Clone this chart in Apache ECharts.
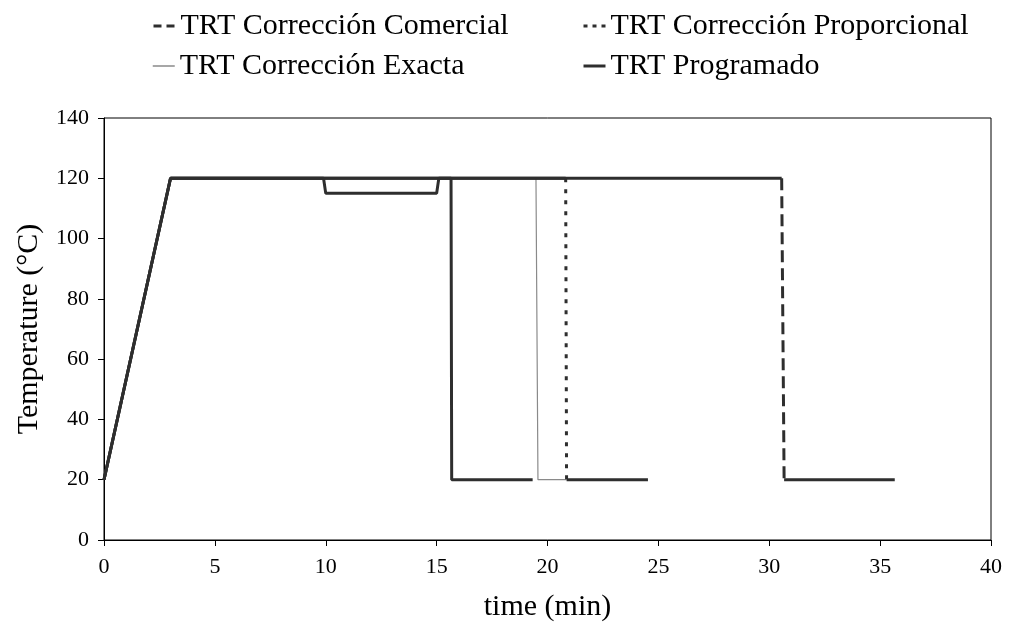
<!DOCTYPE html>
<html><head><meta charset="utf-8">
<script src="https://cdn.jsdelivr.net/npm/echarts@6/dist/echarts.min.js"></script>
<style>html,body{margin:0;padding:0;background:#fff}#c{width:1011px;height:633px}</style>
</head><body><div id="c"></div>
<script>
// Data (time in min, temperature in °C)
const seriesNames = ['TRT Corrección Comercial','TRT Corrección Proporcional','TRT Corrección Exacta','TRT Programado'];
const comercialTime = [0, 3, 30.56, 30.67, 35.66];
const comercialTemp = [20, 120, 120, 20, 20];
const proporcionalTime = [0, 3, 20.82, 20.86, 24.53];
const proporcionalTemp = [20, 120, 120, 20, 20];
const exactaTime = [0, 3, 19.48, 19.57, 20.86];
const exactaTemp = [20, 120, 120, 20, 20];
const programadoTime = [0, 3, 9.9, 10.0, 15.0, 15.1, 15.65, 15.68, 19.33];
const programadoTemp = [20, 120, 120, 115, 115, 120, 120, 20, 20];
const xTicks = [0, 5, 10, 15, 20, 25, 30, 35, 40];
const yTicks = [0, 20, 40, 60, 80, 100, 120, 140];

const dark = '#2e2e2e';
const grey = '#8a8a8a';
function pts(t, v) { return t.map((x, i) => [x, v[i]]); }
// drop segment (index 2 -> 3) drawn with the dash pattern, rest solid
function dropPart(t, v) { return [[t[2], v[2]], [t[3], v[3]]]; }
function flatPart(t, v) {
  const p = pts(t, v);
  return p.slice(0, 3).concat([[null, null]], p.slice(3));
}
const serif = 'Liberation Serif, Times New Roman, serif';

const series = [
  { name: seriesNames[2], type: 'line', data: pts(exactaTime, exactaTemp), symbol: 'none',
    lineStyle: { color: grey, width: 1.2 }, itemStyle: { color: grey }, z: 1 },
  { name: seriesNames[0], type: 'line', data: dropPart(comercialTime, comercialTemp), symbol: 'none',
    lineStyle: { color: dark, width: 3, type: [12, 6] }, itemStyle: { color: dark }, z: 2 },
  { name: seriesNames[0], type: 'line', data: flatPart(comercialTime, comercialTemp), symbol: 'none', connectNulls: false,
    lineStyle: { color: dark, width: 3 }, itemStyle: { color: dark }, z: 2 },
  { name: seriesNames[1], type: 'line', data: dropPart(proporcionalTime, proporcionalTemp), symbol: 'none',
    lineStyle: { color: dark, width: 3, type: [4, 7] }, itemStyle: { color: dark }, z: 3 },
  { name: seriesNames[1], type: 'line', data: flatPart(proporcionalTime, proporcionalTemp), symbol: 'none', connectNulls: false,
    lineStyle: { color: dark, width: 3 }, itemStyle: { color: dark }, z: 3 },
  { name: seriesNames[3], type: 'line', data: pts(programadoTime, programadoTemp), symbol: 'none',
    lineStyle: { color: dark, width: 3 }, itemStyle: { color: dark }, z: 5 }
];

const legendPos = [[147, 6], [577, 6], [147, 46], [577, 46]];
const legendLine = [
  { color: dark, width: 3, type: [8, 5] },
  { color: dark, width: 3, type: [4, 5] },
  { color: grey, width: 1.5, type: 'solid' },
  { color: dark, width: 3, type: 'solid' }
];
const legends = seriesNames.map((n, i) => ({
  data: [n], left: legendPos[i][0], top: legendPos[i][1], itemWidth: 22, itemHeight: 14,
  selectedMode: false,
  lineStyle: legendLine[i],
  itemStyle: { color: 'rgba(0,0,0,0)', borderColor: 'rgba(0,0,0,0)', borderWidth: 0, opacity: 0 },
  textStyle: { fontFamily: serif, fontSize: 30, color: '#000' }
}));

const chart = echarts.init(document.getElementById('c'), null, { renderer: 'canvas' });
chart.setOption({
  animation: false,
  backgroundColor: '#fff',
  legend: legends,
  grid: { left: 104, right: 20, top: 118, bottom: 93, show: true, borderColor: '#000', borderWidth: 1, backgroundColor: 'transparent' },
  xAxis: {
    type: 'value', min: xTicks[0], max: xTicks[xTicks.length - 1], interval: 5,
    name: 'time (min)', nameLocation: 'middle', nameGap: 52,
    nameTextStyle: { fontFamily: serif, fontSize: 30, color: '#000' },
    axisLine: { lineStyle: { color: '#000', width: 1 } },
    axisTick: { show: true, inside: false, length: 6, lineStyle: { color: '#000' } },
    axisLabel: { fontFamily: serif, fontSize: 22, color: '#000', margin: 16 },
    splitLine: { show: false }
  },
  yAxis: {
    type: 'value', min: yTicks[0], max: yTicks[yTicks.length - 1], interval: 20,
    name: 'Temperature (°C)', nameLocation: 'middle', nameGap: 60,
    nameTextStyle: { fontFamily: serif, fontSize: 30, color: '#000' },
    axisLine: { show: true, lineStyle: { color: '#000', width: 1 } },
    axisTick: { show: true, inside: false, length: 6, lineStyle: { color: '#000' } },
    axisLabel: { fontFamily: serif, fontSize: 22, color: '#000', margin: 15 },
    splitLine: { show: false }
  },
  series: series
});
</script></body></html>
